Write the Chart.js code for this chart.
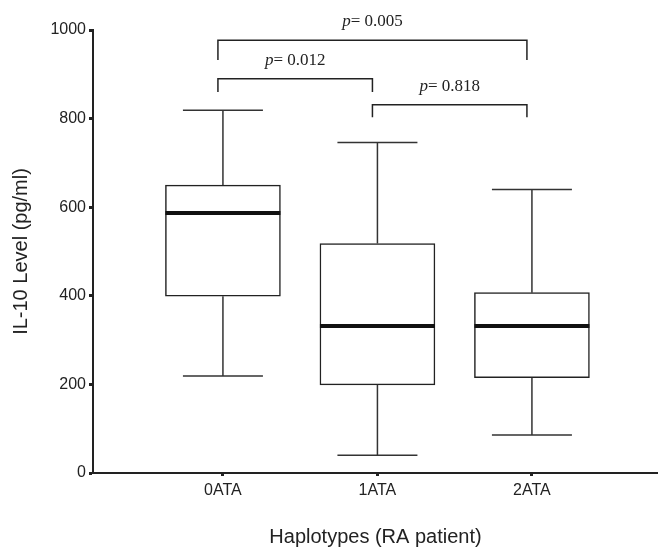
<!DOCTYPE html>
<html>
<head>
<meta charset="utf-8">
<script src="https://cdn.jsdelivr.net/npm/chart.js"></script>
<style>
  html, body { margin: 0; padding: 0; background: #fff; }
  #wrap { width: 658px; height: 551px; }
</style>
</head>
<body>
<div id="wrap"><canvas id="chart" width="658" height="551"></canvas></div>
<script>
// categories and box statistics (pg/ml)
const categories = ['0ATA', '1ATA', '2ATA'];
const whiskerLow = [219, 40, 86];
const q1 = [399, 199, 215];
const median = [587, 332, 332];
const q3 = [650, 518, 407];
const whiskerHigh = [819, 746, 640];

// pairwise comparisons shown as brackets
const pairFrom = [0, 0, 1];
const pairTo = [2, 1, 2];
const pValues = ['0.005', '0.012', '0.818'];
const bracketLevel = [977, 890, 831];
const bracketDrop = [45, 30, 28];

const yTicks = [0, 200, 400, 600, 800, 1000];

const ink = '#222';

// whiskers, medians and significance brackets drawn through the chart's scales
const boxExtras = {
  id: 'boxExtras',
  afterDatasetsDraw(chart) {
    const ctx = chart.ctx;
    const xs = chart.scales.x;
    const ys = chart.scales.y;
    const meta = chart.getDatasetMeta(0);
    ctx.save();
    categories.forEach((c, i) => {
      const cx = xs.getPixelForValue(i);
      const w = meta.data[i].width;
      const capHalf = 40;
      ctx.strokeStyle = '#333';
      ctx.lineWidth = 1.5;
      ctx.beginPath();
      // upper whisker
      ctx.moveTo(cx, ys.getPixelForValue(q3[i]));
      ctx.lineTo(cx, ys.getPixelForValue(whiskerHigh[i]));
      ctx.moveTo(cx - capHalf, ys.getPixelForValue(whiskerHigh[i]));
      ctx.lineTo(cx + capHalf, ys.getPixelForValue(whiskerHigh[i]));
      // lower whisker
      ctx.moveTo(cx, ys.getPixelForValue(q1[i]));
      ctx.lineTo(cx, ys.getPixelForValue(whiskerLow[i]));
      ctx.moveTo(cx - capHalf, ys.getPixelForValue(whiskerLow[i]));
      ctx.lineTo(cx + capHalf, ys.getPixelForValue(whiskerLow[i]));
      ctx.stroke();
      // median
      ctx.strokeStyle = '#111';
      ctx.lineWidth = 4;
      ctx.beginPath();
      ctx.moveTo(cx - w / 2, ys.getPixelForValue(median[i]));
      ctx.lineTo(cx + w / 2, ys.getPixelForValue(median[i]));
      ctx.stroke();
    });

    // brackets
    pValues.forEach((p, k) => {
      const x1 = xs.getPixelForValue(pairFrom[k]) - 5;
      const x2 = xs.getPixelForValue(pairTo[k]) - 5;
      const yTop = ys.getPixelForValue(bracketLevel[k]);
      const yLeg = ys.getPixelForValue(bracketLevel[k] - bracketDrop[k]);
      ctx.strokeStyle = ink;
      ctx.lineWidth = 1.5;
      ctx.beginPath();
      ctx.moveTo(x1, yLeg);
      ctx.lineTo(x1, yTop);
      ctx.lineTo(x2, yTop);
      ctx.lineTo(x2, yLeg);
      ctx.stroke();

      const italic = 'italic 17px "Liberation Serif", "Times New Roman", serif';
      const upright = '17px "Liberation Serif", "Times New Roman", serif';
      const rest = '= ' + p;
      ctx.font = italic;
      const wp = ctx.measureText('p').width;
      ctx.font = upright;
      const wr = ctx.measureText(rest).width;
      const start = (x1 + x2) / 2 - (wp + wr) / 2;
      const base = yTop - 14;
      ctx.fillStyle = ink;
      ctx.textBaseline = 'alphabetic';
      ctx.textAlign = 'left';
      ctx.font = italic;
      ctx.fillText('p', start, base);
      ctx.font = upright;
      ctx.fillText(rest, start + wp, base);
    });
    ctx.restore();
  }
};

new Chart(document.getElementById('chart'), {
  type: 'bar',
  data: {
    datasets: [{
      label: 'IL-10',
      data: categories.map((c, i) => ({ x: i, y: [q1[i], q3[i]] })),
      backgroundColor: '#fff',
      borderColor: ink,
      borderWidth: 1.5,
      borderSkipped: false,
      barThickness: 115
    }]
  },
  options: {
    responsive: false,
    animation: false,
    layout: { padding: { top: 30, right: 0, left: 0, bottom: 0 } },
    plugins: { legend: { display: false }, tooltip: { enabled: false } },
    scales: {
      x: {
        type: 'linear',
        offset: false,
        min: -0.841,
        max: 2.816,
        afterBuildTicks(scale) { scale.ticks = categories.map((c, i) => ({ value: i })); },
        afterFit(scale) { scale.height = 78; },
        ticks: {
          callback: v => categories[v],
          color: ink,
          padding: 5,
          font: { family: '"Liberation Sans", Arial, sans-serif', size: 16 }
        },
        grid: { offset: false, drawOnChartArea: false, drawTicks: true, tickLength: 3, tickWidth: 3, tickColor: ink },
        border: { color: ink, width: 2 },
        title: {
          display: true,
          text: 'Haplotypes (RA patient)',
          color: ink,
          padding: { top: 0, bottom: 2 },
          font: { family: '"Liberation Sans", Arial, sans-serif', size: 20 }
        }
      },
      y: {
        min: 0,
        max: 1000,
        afterBuildTicks(scale) { scale.ticks = yTicks.map(v => ({ value: v })); },
        afterFit(scale) { scale.width = 93; },
        ticks: {
          callback: v => String(v),
          color: ink,
          padding: 3,
          font: { family: '"Liberation Sans", Arial, sans-serif', size: 16 }
        },
        grid: { drawOnChartArea: false, drawTicks: true, tickLength: 4, tickWidth: 3, tickColor: ink },
        border: { color: ink, width: 2 },
        title: {
          display: true,
          text: 'IL-10 Level (pg/ml)',
          color: ink,
          padding: { top: 9, bottom: 0 },
          font: { family: '"Liberation Sans", Arial, sans-serif', size: 20 }
        }
      }
    }
  },
  plugins: [boxExtras]
});
</script>
</body>
</html>
